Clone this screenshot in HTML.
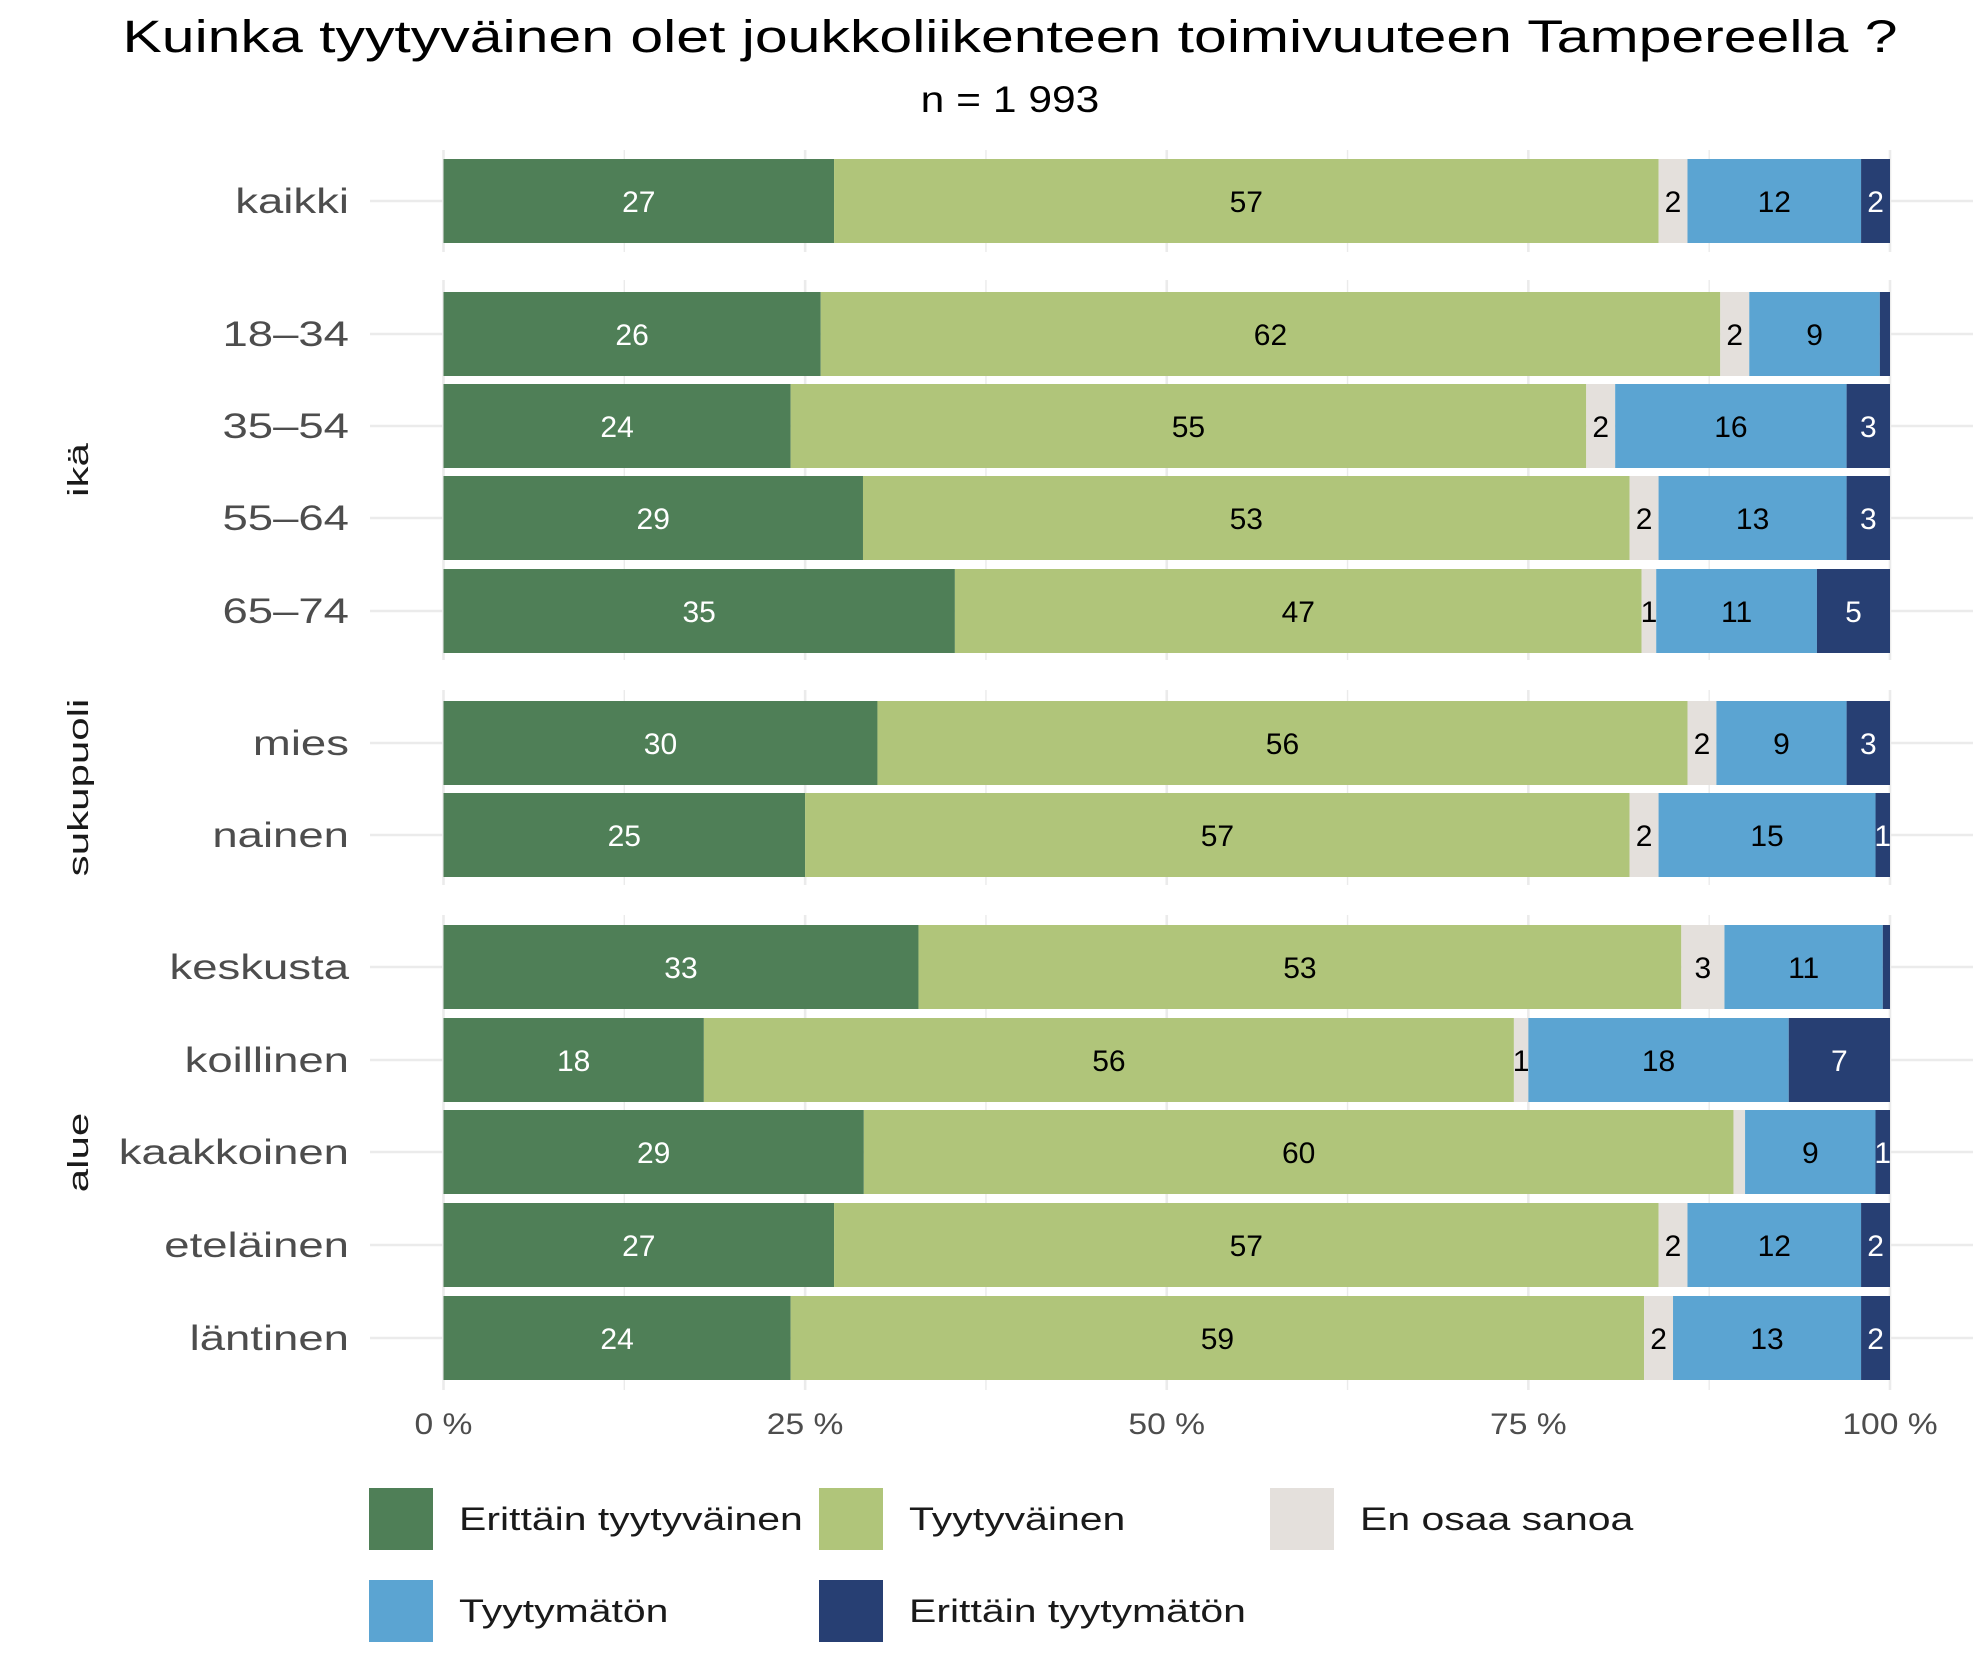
<!DOCTYPE html>
<html><head><meta charset="utf-8"><style>
html,body{margin:0;padding:0;background:#fff}
svg{display:block;font-family:"Liberation Sans",sans-serif}
</style></head><body>
<svg id="chart" width="1988" height="1670" viewBox="0 0 1988 1670">
<text id="title" x="1010" y="52" font-size="45" text-anchor="middle" fill="#000">Kuinka tyytyväinen olet joukkoliikenteen toimivuuteen Tampereella ?</text>
<text id="subtitle" x="1010" y="112" font-size="37" text-anchor="middle" fill="#000">n = 1 993</text>
<g id="grid"></g><g id="bars"></g><g id="labels"></g><g id="legend"></g>
</svg>
<script>
const categories = ["kaikki","18–34","35–54","55–64","65–74","mies","nainen","keskusta","koillinen","kaakkoinen","eteläinen","läntinen"];
const seriesNames = ["Erittäin tyytyväinen","Tyytyväinen","En osaa sanoa","Tyytymätön","Erittäin tyytymätön"];
const s1 = [27,26,24,29,35,30,25,33,18,29,27,24];
const s2 = [57,62,55,53,47,56,57,53,56,60,57,59];
const s3 = [2,2,2,2,1,2,2,3,1,0.8,2,2];
const s4 = [12,9,16,13,11,9,15,11,18,9,12,13];
const s5 = [2,0.7,3,3,5,3,1,0.5,7,1,2,2];
const ticks = [0,25,50,75,100];
const tickLabels = ["0 %","25 %","50 %","75 %","100 %"];
const groups = [{name:"",rows:[0]},{name:"ikä",rows:[1,2,3,4]},{name:"sukupuoli",rows:[5,6]},{name:"alue",rows:[7,8,9,10,11]}];

const colors = ["#4f7f57","#b0c57a","#e4e0dc","#5ba4d2","#273f73"];
const textCol = ["#fff","#000","#000","#000","#fff"];
const ns="http://www.w3.org/2000/svg";
const X0=443.5, X1=1890;
const xs = v => X0 + (X1-X0)*v/100;
const rowY = [201,334,426,518,611,743,835,967,1060,1152,1245,1338];
const panelY = [[150,252],[280,660],[690,885],[915,1390]];
const BH=84;
function el(tag,attrs,parent){const e=document.createElementNS(ns,tag);for(const k in attrs)e.setAttribute(k,attrs[k]);parent.appendChild(e);return e;}
function stretch(t,f){const w=t.getComputedTextLength();t.setAttribute('textLength',w*f);t.setAttribute('lengthAdjust','spacingAndGlyphs');}
const grid=document.getElementById('grid'), bars=document.getElementById('bars'), labels=document.getElementById('labels'), legend=document.getElementById('legend');
stretch(document.getElementById('title'),1.31);
stretch(document.getElementById('subtitle'),1.15);
const series=[s1,s2,s3,s4,s5];
panelY.forEach((p,gi)=>{
  for(let t=0;t<=100;t+=12.5){
    const l=el('line',{x1:xs(t),x2:xs(t),y1:p[0],y2:p[1],stroke:'#ebebeb','stroke-width':t%25===0?2.6:1.4},grid);
    
    
  }
  const g=groups[gi];
  if(g.name){
    const my=(panelY[gi][0]+panelY[gi][1])/2;
    const t=el('text',{x:0,y:0,transform:`translate(88 ${my}) rotate(-90)`,'font-size':29,'text-anchor':'middle',fill:'#1a1a1a'},labels);
    t.textContent=g.name;
    
    
    stretch(t,1.45);
  }
});
categories.forEach((c,i)=>{
  const y=rowY[i];
  const gl=el('line',{x1:370,x2:1973,y1:y,y2:y,stroke:'#ebebeb','stroke-width':2.6},grid);
  
  
  const lab=el('text',{x:349,y:y+12,'font-size':35,'text-anchor':'end',fill:'#4d4d4d'},labels);
  lab.textContent=c;
  
  
  stretch(lab,1.3);
  const tot=series.reduce((a,s)=>a+s[i],0);
  let acc=0;
  series.forEach((s,k)=>{
    const v=s[i]/tot*100;
    const xa=xs(acc), xb=xs(acc+v);
    const r=el('rect',{x:xa,y:y-BH/2,width:xb-xa,height:BH,fill:colors[k]},bars);
    
    
    if(s[i]>=1){
      const t=el('text',{x:(xa+xb)/2,y:y+11,'font-size':30,'text-anchor':'middle',fill:textCol[k]},labels);
      t.textContent=Math.round(s[i]);
      
      
    }
    acc+=v;
  });
});
ticks.forEach((t,i)=>{
  const tx=el('text',{x:xs(t),y:1434,'font-size':30,'text-anchor':'middle',fill:'#4d4d4d'},labels);
  tx.textContent=tickLabels[i];
  
  
  stretch(tx,1.12);
});
const lx=[369,819,1270], ly=[1488,1580];
seriesNames.forEach((n,k)=>{
  const x=lx[k%3], y=ly[Math.floor(k/3)];
  const r=el('rect',{x:x,y:y,width:64,height:62,fill:colors[k]},legend);
  
  
  const t=el('text',{x:x+90,y:y+42,'font-size':32,fill:'#1a1a1a'},legend);
  t.textContent=n;
  
  
  stretch(t,1.28);
});
</script>
</body></html>
